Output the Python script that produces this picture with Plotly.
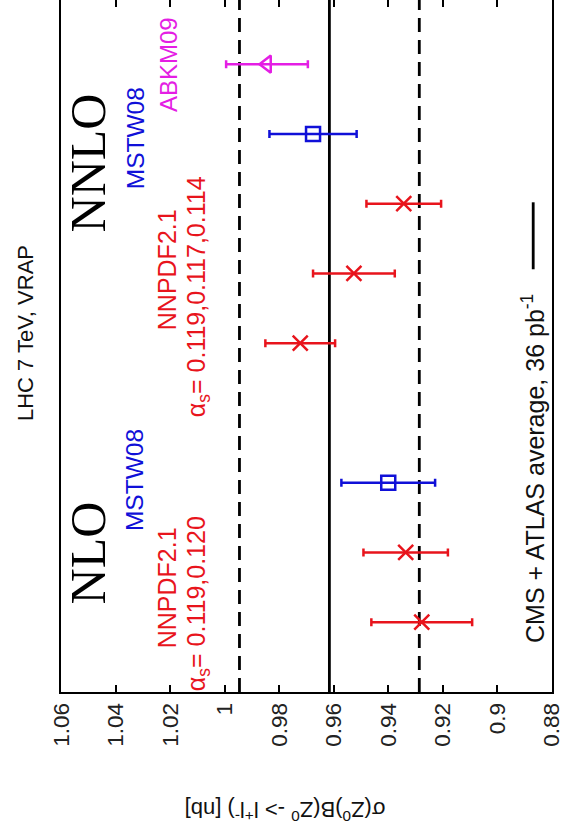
import plotly.graph_objects as go

# Rows, bottom to top (one empty slot separates NLO from NNLO)
rows = ["NLO NNPDF2.1 0.119", "NLO NNPDF2.1 0.120", "NLO MSTW08", "",
        "NNLO NNPDF2.1 0.119", "NNLO NNPDF2.1 0.117", "NNLO NNPDF2.1 0.114",
        "NNLO MSTW08", "NNLO ABKM09"]

nnpdf_rows = ["NLO NNPDF2.1 0.119", "NLO NNPDF2.1 0.120",
              "NNLO NNPDF2.1 0.119", "NNLO NNPDF2.1 0.117", "NNLO NNPDF2.1 0.114"]
nnpdf_val = [0.9277, 0.9336, 0.9723, 0.9526, 0.9343]
nnpdf_err = [0.0185, 0.0155, 0.0128, 0.0150, 0.0137]

mstw_rows = ["NLO MSTW08", "NNLO MSTW08"]
mstw_val = [0.9400, 0.9676]
mstw_err = [0.0172, 0.0160]

abkm_rows = ["NNLO ABKM09"]
abkm_val = [0.9845]
abkm_err = [0.0150]

avg_val = 0.9616
avg_err = 0.0330

x_ticks = [1.06, 1.04, 1.02, 1.0, 0.98, 0.96, 0.94, 0.92, 0.90, 0.88]
x_ticklabels = ["1.06", "1.04", "1.02", "1", "0.98", "0.96", "0.94", "0.92", "0.9", "0.88"]

RED = "#e8141c"
BLUE = "#1010d8"
MAG = "#e41ee4"
SANS = "Liberation Sans, Arial, sans-serif"
SERIF = "Liberation Serif, Times New Roman, serif"


def ypos(names):
    return [rows.index(n) + 1 for n in names]


fig = go.Figure()

for names, vals, errs, col, sym, size in [
    (nnpdf_rows, nnpdf_val, nnpdf_err, RED, "x-thin-open", 15),
    (mstw_rows, mstw_val, mstw_err, BLUE, "square-open", 14),
    (abkm_rows, abkm_val, abkm_err, MAG, "triangle-left-open", 15),
]:
    fig.add_trace(go.Scatter(
        x=vals, y=ypos(names), mode="markers",
        marker=dict(symbol=sym, size=size, color=col, line=dict(color=col, width=2.5)),
        error_x=dict(type="data", array=errs, visible=True, color=col, thickness=2.5, width=4),
        showlegend=False, hoverinfo="x",
    ))

# CMS + ATLAS average band lines
for v, dash in [(avg_val, "solid"), (avg_val + avg_err, "14px,8px"), (avg_val - avg_err, "14px,8px")]:
    fig.add_shape(type="line", xref="x", yref="paper", x0=v, x1=v, y0=0, y1=1,
                  line=dict(color="black", width=2.8, dash=dash), layer="below")

# legend sample line
fig.add_shape(type="line", xref="x", yref="y", x0=0.8868, x1=0.8868, y0=6.06, y1=7.02,
              line=dict(color="black", width=2.8))

ann = [
    dict(text="NNLO", x=1.0501, y=7.58, font=dict(family=SERIF, size=50, color="black")),
    dict(text="NLO", x=1.0501, y=1.99, font=dict(family=SERIF, size=50, color="black")),
    dict(text="MSTW08", x=1.0329, y=7.94, font=dict(family=SANS, size=24.5, color=BLUE)),
    dict(text="MSTW08", x=1.0329, y=3.04, font=dict(family=SANS, size=24.5, color=BLUE)),
    dict(text="ABKM09", x=1.0204, y=8.99, font=dict(family=SANS, size=24, color=MAG)),
    dict(text="NNPDF2.1", x=1.0211, y=6.05, font=dict(family=SANS, size=25, color=RED)),
    dict(text="α<sub>s</sub>= 0.119,0.117,0.114", x=1.0098, y=5.66,
         font=dict(family=SANS, size=25, color=RED)),
    dict(text="NNPDF2.1", x=1.0211, y=1.49, font=dict(family=SANS, size=25, color=RED)),
    dict(text="α<sub>s</sub>= 0.119,0.120", x=1.0098, y=1.26,
         font=dict(family=SANS, size=25, color=RED)),
    dict(text="CMS + ATLAS average, 36 pb<sup>-1</sup>", x=0.8868, y=3.20,
         font=dict(family=SANS, size=25, color="#111")),
]
for a in ann:
    fig.add_annotation(xref="x", yref="y", showarrow=False, textangle=-90,
                       xanchor="center", yanchor="middle", **a)

fig.add_annotation(text="LHC 7 TeV, VRAP", xref="paper", yref="y", x=-0.072, y=5.14,
                   showarrow=False, textangle=-90, xanchor="center", yanchor="middle",
                   font=dict(family=SANS, size=22, color="#111"))

fig.add_annotation(text="σ(Z<sup>0</sup>)B(Z<sup>0</sup> -> l<sup>+</sup>l<sup>-</sup>) [nb]",
                   xref="x", yref="paper", x=0.978, y=-0.173, showarrow=False,
                   textangle=180, xanchor="center", yanchor="middle",
                   font=dict(family=SANS, size=22, color="#111"))

fig.update_xaxes(range=[1.0601, 0.8799], tickvals=x_ticks, ticktext=x_ticklabels,
                 tickangle=-90, ticks="inside", ticklen=7, tickwidth=1.5, tickcolor="black",
                 showline=True, linecolor="black", linewidth=2, mirror="ticks",
                 showgrid=False, zeroline=False, automargin=False,
                 ticklabeloverflow="allow",
                 tickfont=dict(family=SANS, size=22.5, color="#222"))
fig.update_yaxes(range=[0, 9.92], showticklabels=False, ticks="",
                 showline=True, linecolor="black", linewidth=2, mirror=True,
                 showgrid=False, zeroline=False, automargin=False)

fig.update_layout(width=561, height=836, margin=dict(l=61, r=9, t=0, b=144),
                  paper_bgcolor="white", plot_bgcolor="white")

fig.write_html("out.html", config={"displayModeBar": False},
               post_script="document.body.style.margin='0';document.body.style.overflow='hidden';")
